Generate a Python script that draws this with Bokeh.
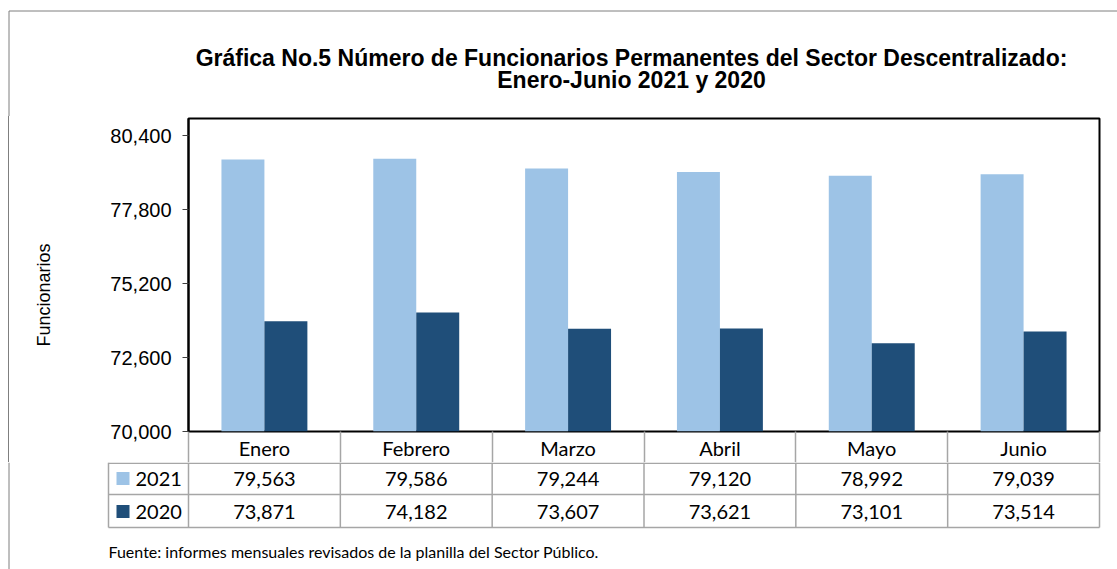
from bokeh.plotting import figure
from bokeh.layouts import column, row
from bokeh.models import (Range1d, FixedTicker, NumeralTickFormatter,
                          ColumnDataSource, LinearAxis)
from bokeh.core.properties import value
from bokeh.embed import file_html
from bokeh.resources import INLINE

# ---------------- data ----------------
months = ["Enero", "Febrero", "Marzo", "Abril", "Mayo", "Junio"]
v2021 = [79563, 79586, 79244, 79120, 78992, 79039]
v2020 = [73871, 74182, 73607, 73621, 73101, 73514]
series = ["2021", "2020"]
y_ticks = [70000, 72600, 75200, 77800, 80400]
title_lines = ["Gráfica No.5 Número de Funcionarios Permanentes del Sector Descentralizado:",
               "Enero-Junio 2021 y 2020"]
y_label = "Funcionarios"
source_note = "Fuente: informes mensuales revisados de la planilla del Sector Público."

# ---------------- styles ----------------
LIGHT = "#9DC3E6"
DARK = "#1F4E79"
GRID = "#A6A6A6"
FRAME = "#7F7F7F"
Y0, Y1 = 70000, 81000
TITLE_FONT = "Liberation Sans"
TBL_FONT = "Lato"
BAR_W = 0.283

# ---------------- layout (page pixels) ----------------
W = 1117
TOP_H = 116            # title band: page 0..116
MID_H = 462 - TOP_H    # plot band + header row: page 116..462
BOT_H = 569 - 462      # table rows + source: page 462..569
FL, FR, FB = 188, 1099, 431
HDR_H = 462 - FB
n = len(months)
SX = (FR - FL) / n


def xd(px):
    """page x -> category coordinate (category i spans i..i+1)"""
    return (px - FL) / SX


def blank(width, height, xr, yr):
    f = figure(width=width, height=height, x_range=xr, y_range=yr,
               output_backend="svg", toolbar_location=None,
               x_axis_location=None, y_axis_location=None,
               min_border=0, min_border_left=0, min_border_right=0,
               min_border_top=0, min_border_bottom=0)
    f.grid.visible = False
    f.outline_line_color = None
    f.background_fill_color = "white"
    f.border_fill_color = "white"
    return f


# ---------------- title band ----------------
top = blank(W, TOP_H, Range1d(0, W), Range1d(TOP_H, 0))
top.segment(x0=[8.5, 8.5], y0=[10.5, 10.5], x1=[W, 8.5], y1=[10.5, TOP_H],
            line_color=FRAME, line_width=1)
top.text(x=[631, 631], y=[57, 79], text=title_lines, text_align="center",
         text_baseline="middle", text_font=value(TITLE_FONT), text_font_size="23px",
         text_font_style="bold", text_color="black")

# ---------------- main chart ----------------
p = figure(width=W, height=MID_H,
           x_range=Range1d(0, n), y_range=Range1d(Y0, Y1),
           output_backend="svg", toolbar_location=None,
           x_axis_location=None,
           min_border_left=FL, min_border_right=W - FR,
           min_border_top=2, min_border_bottom=HDR_H,
           styles={"background": "linear-gradient(90deg, #ffffff 8px, %s 8px, %s 9px, #ffffff 9px)"
                                 % (FRAME, FRAME)})

idx = list(range(n))
src = ColumnDataSource(dict(x1=[i + 0.5 - BAR_W / 2 for i in idx],
                            x2=[i + 0.5 + BAR_W / 2 for i in idx],
                            v2021=v2021, v2020=v2020))
p.vbar(x="x1", top="v2021", bottom=Y0, width=BAR_W, source=src,
       fill_color=LIGHT, line_color=None)
p.vbar(x="x2", top="v2020", bottom=Y0, width=BAR_W, source=src,
       fill_color=DARK, line_color=None)

p.grid.visible = False
p.outline_line_color = "black"
p.outline_line_width = 2
p.background_fill_color = "white"
p.border_fill_color = None

ax = p.yaxis[0]
ax.ticker = FixedTicker(ticks=y_ticks)
ax.formatter = NumeralTickFormatter(format="0,0")
ax.major_label_text_font = TITLE_FONT
ax.major_label_text_font_size = "20px"
ax.major_label_text_color = "black"
ax.major_tick_in = 0
ax.major_tick_out = 6
ax.major_tick_line_color = "#404040"
ax.minor_tick_line_color = None
ax.axis_line_color = "black"
ax.axis_line_width = 2
ax.major_label_standoff = 11
# trailing no-break spaces move the centred label a little lower, as in the original
ax.axis_label = y_label + "\u00a0" * 8
ax.axis_label_text_font = TITLE_FONT
ax.axis_label_text_font_size = "18px"
ax.axis_label_text_font_style = "normal"
ax.axis_label_text_color = "black"
ax.axis_label_standoff = 53

# header row of the data table = month axis below the frame
hdr = LinearAxis(ticker=FixedTicker(ticks=[i + 0.5 for i in idx],
                                    minor_ticks=list(range(n + 1))),
                 major_label_overrides={i + 0.5: m for i, m in enumerate(months)})
hdr.axis_line_color = None
hdr.major_tick_in = 0
hdr.major_tick_out = 0
hdr.major_tick_line_color = None
hdr.minor_tick_in = 0
hdr.minor_tick_out = HDR_H
hdr.minor_tick_line_color = GRID
hdr.minor_tick_line_width = 1.5
hdr.major_label_standoff = 4 - HDR_H
hdr.major_label_text_font = TBL_FONT
hdr.major_label_text_font_size = "20px"
hdr.major_label_text_color = "black"
p.add_layout(hdr, "below")

# ---------------- table band (page y 462..569, local y = page y - 462) ----------------
tbl = blank(W, BOT_H, Range1d(xd(0), xd(W)), Range1d(BOT_H, 0))
tbl.segment(x0=[xd(8.5)], y0=[0], x1=[xd(8.5)], y1=[BOT_H], line_color=FRAME, line_width=1)
hy = [0.75, 32, 65]
tbl.segment(x0=[xd(108)] * 3, y0=hy, x1=[n] * 3, y1=hy, line_color=GRID, line_width=1.5)
vx = list(range(n + 1))
tbl.segment(x0=vx, y0=[0] * (n + 1), x1=vx, y1=[65] * (n + 1), line_color=GRID, line_width=1.5)
tbl.segment(x0=[xd(108)], y0=[0], x1=[xd(108)], y1=[65], line_color=GRID, line_width=1.5)

xc = [i + 0.5 for i in idx]
for vals, ymid in zip([v2021, v2020], [16, 49]):
    tbl.text(x=xc, y=[ymid] * n, text=[f"{v:,}" for v in vals], text_align="center",
             text_baseline="middle", text_font=value(TBL_FONT), text_font_size="20px",
             text_color="black")

tbl.rect(x=[xd(122.5)] * 2, y=[16, 49], width=13, height=13, width_units="screen",
         height_units="screen", fill_color=[LIGHT, DARK], line_color=None)
tbl.text(x=[xd(135)] * 2, y=[16, 49], text=series, text_align="left", text_baseline="middle",
         text_font=value(TBL_FONT), text_font_size="20px", text_color="black")

tbl.text(x=[xd(108)], y=[551 - 462], text=[source_note], text_align="left",
         text_baseline="middle", text_font=value(TBL_FONT), text_font_size="16px",
         text_color="black")

# p is wrapped in its own row so that the column does not align the bands' frames
layout = column(top, row(p), tbl)
open("out.html", "w").write(file_html(layout, INLINE))
